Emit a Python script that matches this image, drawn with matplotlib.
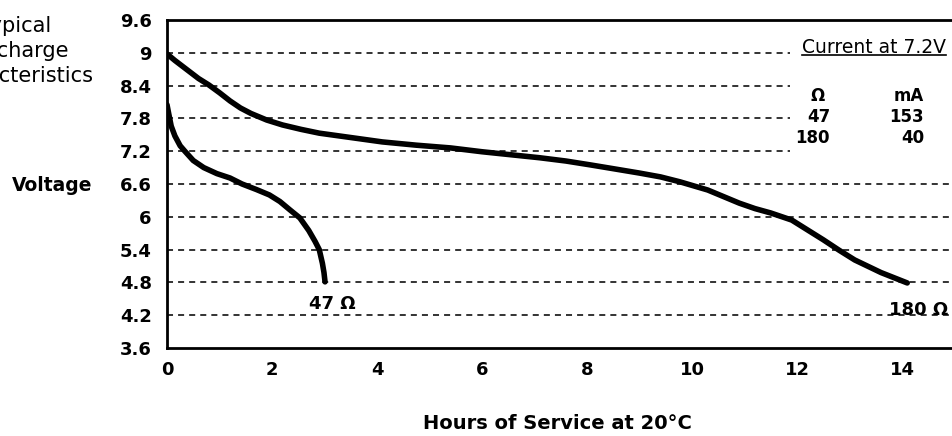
import matplotlib.pyplot as plt
from matplotlib.patches import Rectangle
from matplotlib.lines import Line2D

# discharge curves (hours, volts)
hours_47 = [0, 0.03, 0.08, 0.15, 0.25, 0.34, 0.5, 0.7, 0.95, 1.2, 1.43, 1.7, 1.95,
            2.15, 2.35, 2.53, 2.7, 2.82, 2.9, 2.96, 2.99, 3.01]
volts_47 = [8.05, 7.9, 7.66, 7.48, 7.3, 7.2, 7.03, 6.9, 6.79, 6.71, 6.6, 6.5, 6.4,
            6.28, 6.12, 5.98, 5.75, 5.55, 5.4, 5.15, 4.98, 4.81]

hours_180 = [0, 0.15, 0.3, 0.45, 0.6, 0.8, 1.0, 1.2, 1.4, 1.6, 1.9, 2.2, 2.55, 2.9,
             3.5, 4.1, 4.75, 5.4, 6.0, 6.7, 7.1, 7.6, 8.06, 8.5, 9.0, 9.4, 9.77,
             10.3, 10.6, 10.9, 11.2, 11.5, 11.9, 12.2, 12.5, 12.8, 13.1, 13.6, 14.1]
volts_180 = [8.98, 8.86, 8.75, 8.64, 8.53, 8.41, 8.27, 8.12, 7.99, 7.89, 7.77, 7.68,
             7.6, 7.53, 7.45, 7.37, 7.31, 7.26, 7.19, 7.12, 7.08, 7.02, 6.95, 6.88,
             6.8, 6.73, 6.64, 6.49, 6.37, 6.25, 6.15, 6.07, 5.94, 5.76, 5.58, 5.39,
             5.21, 4.98, 4.79]

x_ticks = [0, 2, 4, 6, 8, 10, 12, 14]
y_ticks = [3.6, 4.2, 4.8, 5.4, 6.0, 6.6, 7.2, 7.8, 8.4, 9.0, 9.6]
y_labels = ['3.6', '4.2', '4.8', '5.4', '6', '6.6', '7.2', '7.8', '8.4', '9', '9.6']

table_ohms = ['47', '180']
table_ma = ['153', '40']

fig = plt.figure(figsize=(9.53, 4.36), dpi=100)
ax = fig.add_axes([167 / 953, 88 / 436, 787.5 / 953, 328 / 436])
ax.set_xlim(0, 15)
ax.set_ylim(3.6, 9.6)

# dashed horizontal grid
for v in y_ticks[1:-1]:
    ax.axhline(v, color='#333333', lw=1.4, dashes=(3.1, 2.6), zorder=1)

# white area behind the little table
ax.add_patch(Rectangle((11.87, 7.05), 3.5, 2.4, facecolor='white',
                       edgecolor='none', zorder=1.5))

ax.plot(hours_47, volts_47, color='black', lw=4, solid_capstyle='round',
        solid_joinstyle='round', zorder=3)
ax.plot(hours_180, volts_180, color='black', lw=4, solid_capstyle='round',
        solid_joinstyle='round', zorder=3)

ax.text(3.14, 4.405, '47 Ω', ha='center', va='center', fontsize=13, fontweight='bold')
ax.text(14.32, 4.30, '180 Ω', ha='center', va='center', fontsize=13, fontweight='bold')

# table
hdr = ax.text(13.47, 9.09, 'Current at 7.2V', ha='center', va='center',
              fontsize=13.5, zorder=4)
ax.text(12.53, 8.21, 'Ω', ha='right', va='center', fontsize=12, fontweight='bold')
ax.text(14.42, 8.21, 'mA', ha='right', va='center', fontsize=12, fontweight='bold')
for i, (ohm, ma) in enumerate(zip(table_ohms, table_ma)):
    y = [7.83, 7.44][i]
    ax.text(12.63, y, ohm, ha='right', va='center', fontsize=12, fontweight='bold')
    ax.text(14.42, y, ma, ha='right', va='center', fontsize=12, fontweight='bold')

ax.set_xticks(x_ticks)
ax.set_xticklabels([str(t) for t in x_ticks], fontsize=13, fontweight='bold')
ax.set_yticks(y_ticks)
ax.set_yticklabels(y_labels, fontsize=13, fontweight='bold')
ax.tick_params(axis='both', length=0)
ax.tick_params(axis='y', pad=11)
ax.tick_params(axis='x', pad=9)

for side in ['left', 'top', 'bottom']:
    ax.spines[side].set_linewidth(2)
ax.spines['right'].set_visible(False)

fig.text(92 / 953, 1 - 185 / 436, 'Voltage', ha='right', va='center',
         fontsize=13.5, fontweight='bold')
fig.text(557 / 953, 1 - 423 / 436, 'Hours of Service at 20°C', ha='center',
         va='center', fontsize=14, fontweight='bold')
fig.text(16 / 953, 1 - 51 / 436, 'Typical\nDischarge\nCharacteristics', ha='center',
         va='center', fontsize=15, linespacing=1.3, multialignment='center')

# underline the table header
fig.canvas.draw()
bb = hdr.get_window_extent()
inv = fig.transFigure.inverted()
(x0, y0), (x1, _) = inv.transform([(bb.x0, bb.y0 + 2), (bb.x1, bb.y0 + 2)])
fig.add_artist(Line2D([x0, x1], [y0, y0], color='black', lw=1.2))

fig.savefig('out.png', dpi=100)
